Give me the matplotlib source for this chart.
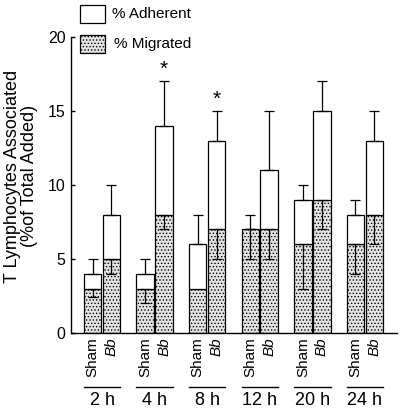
import matplotlib
matplotlib.use("Agg")
import matplotlib.pyplot as plt
from matplotlib.patches import Rectangle
from matplotlib.lines import Line2D
import matplotlib.transforms as mtransforms

plt.rcParams['font.family'] = ['Liberation Sans', 'DejaVu Sans']
plt.rcParams['hatch.linewidth'] = 0.6
plt.rcParams['hatch.color'] = '#555555'

times = ["2 h", "4 h", "8 h", "12 h", "20 h", "24 h"]
conditions = ["Sham", "Bb"]
# total (adherent + migrated) heights
sham_total = [4, 4, 6, 7, 9, 8]
bb_total = [8, 14, 13, 11, 15, 13]
# migrated
sham_migr = [3, 3, 3, 7, 6, 6]
bb_migr = [5, 8, 7, 7, 9, 8]
# upper error on total
sham_total_err = [1, 1, 2, 1, 1, 1]
bb_total_err = [2, 3, 2, 4, 2, 2]
# lower error on migrated
sham_migr_err = [0.6, 1, 0, 2, 3, 2]
bb_migr_err = [1, 1, 2, 2, 2, 2]
stars = [False, True, True, False, False, False]

fig = plt.figure(figsize=(4.0, 4.12), dpi=100)
ax = fig.add_axes([0.1775, 0.192, 0.815, 0.718])

w = 0.333
off = 0.18
mig_face = '#e4e4e4'
for i in range(len(times)):
    for xo, tot, mig, te, me in [(-off, sham_total[i], sham_migr[i], sham_total_err[i], sham_migr_err[i]),
                                 (off, bb_total[i], bb_migr[i], bb_total_err[i], bb_migr_err[i])]:
        x = i + xo
        ax.bar(x, mig, width=w, facecolor=mig_face, edgecolor='black', hatch='.....', linewidth=0.9, zorder=2)
        if tot > mig:
            ax.bar(x, tot - mig, bottom=mig, width=w, facecolor='white', edgecolor='black', linewidth=0.9, zorder=2)
        ax.errorbar(x, tot, yerr=[[0], [te]], fmt='none', ecolor='black', elinewidth=0.9, capsize=3.5, capthick=0.9, zorder=3)
        if me > 0:
            ax.errorbar(x, mig, yerr=[[me], [0]], fmt='none', ecolor='black', elinewidth=0.9, capsize=3.5, capthick=0.9, zorder=3)
    if stars[i]:
        ax.text(i + off, bb_total[i] + bb_total_err[i] + 0.15, '*', ha='center', va='bottom', fontsize=15)

ax.set_xlim(-0.59, 5.61)
ax.set_ylim(0, 20)
ax.set_yticks([0, 5, 10, 15, 20])
ax.set_xticks([])
ax.spines['top'].set_visible(False)
ax.spines['right'].set_visible(False)
ax.spines['left'].set_linewidth(1.0)
ax.spines['bottom'].set_linewidth(1.0)
ax.tick_params(axis='y', direction='in', length=3, width=1, labelsize=11.5, pad=4)
ax.set_ylabel("T Lymphocytes Associated\n(%of Total Added)", fontsize=13, linespacing=1.0)
ax.yaxis.set_label_coords(-0.10, 0.53)

trans = mtransforms.blended_transform_factory(ax.transData, ax.transAxes)
for i, t in enumerate(times):
    ax.text(i - off, -0.015, conditions[0], rotation=90, ha='center', va='top', fontsize=11, transform=trans)
    ax.text(i + off, -0.015, conditions[1], rotation=90, ha='center', va='top', fontsize=11, style='italic', transform=trans)
    ax.add_line(Line2D([i - off - w / 2, i + off + w / 2], [-0.182, -0.182], transform=trans, color='black', lw=1.0, clip_on=False))
    ax.text(i, -0.228, t, ha='center', va='center', fontsize=13, transform=trans)

# legend
fig.patches.append(Rectangle((0.2, 0.944), 0.0625, 0.044, transform=fig.transFigure, facecolor='white', edgecolor='black', lw=0.9))
fig.patches.append(Rectangle((0.2, 0.871), 0.0625, 0.044, transform=fig.transFigure, facecolor=mig_face, edgecolor='black', hatch='.....', lw=0.9))
fig.text(0.28, 0.966, "% Adherent", ha='left', va='center', fontsize=11)
fig.text(0.285, 0.893, "% Migrated", ha='left', va='center', fontsize=11)

fig.savefig("out.png", dpi=100)
